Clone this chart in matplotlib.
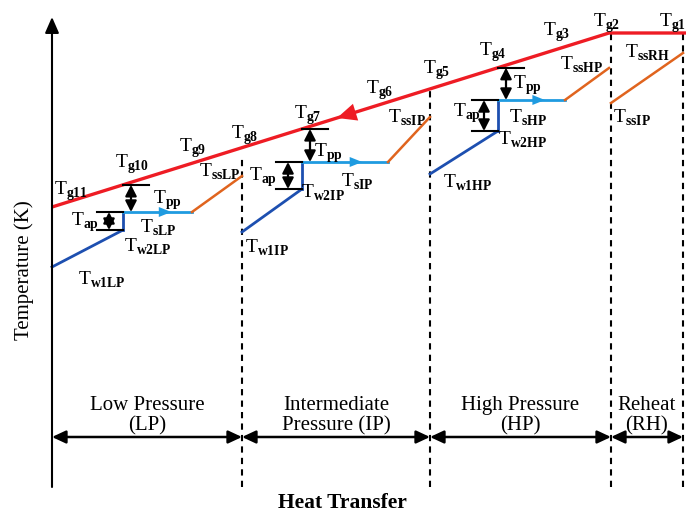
import matplotlib
matplotlib.use('Agg')
import matplotlib.pyplot as plt
import numpy as np

plt.rcParams['font.family'] = 'Liberation Serif'
plt.rcParams['mathtext.fontset'] = 'custom'
plt.rcParams['mathtext.rm'] = 'Liberation Serif'
plt.rcParams['mathtext.bf'] = 'Liberation Serif:bold'

# heat transfer positions of the section boundaries
q_bounds = [0, 190, 378, 559, 631]
section_names = ['Low Pressure\n(LP)', 'Intermediate\nPressure (IP)',
                 'High Pressure\n(HP)', 'Reheat\n(RH)']

# flue gas line
q_gas = [0, 557, 634]
t_gas = [280, 454, 454]

# pressure levels: economiser start, evaporator start, evaporator end, superheater end
q_lp = [0, 71, 140, 190]
t_lp = [220, 257, 275, 311]
q_ip = [190, 250, 336, 378]
t_ip = [255, 298, 325, 370]
q_hp = [378, 446, 513, 557]
t_hp = [313, 356, 387, 419]
q_rh = [559, 631]
t_rh = [384, 434]

# temperature labels (subscript, Q, T)
labels = [
    ('g11', 19, 296), ('g10', 80, 323), ('g9', 141, 339), ('g8', 193, 352),
    ('g7', 256, 372), ('g6', 328, 397), ('g5', 385, 417), ('g4', 441, 435),
    ('g3', 505, 455), ('g2', 555, 464), ('g1', 621, 464),
    ('pp', 115, 287), ('ap', 33, 265), ('sLP', 106, 259), ('w2LP', 96, 240),
    ('w1LP', 50, 207), ('ssLP', 168, 315),
    ('pp', 276, 334), ('ap', 211, 310), ('sIP', 305, 305), ('w2IP', 271, 294),
    ('w1IP', 215, 239), ('ssIP', 355, 369),
    ('pp', 475, 402), ('ap', 415, 374), ('sHP', 476, 369), ('w2HP', 471, 347),
    ('w1HP', 416, 304), ('ssHP', 530, 422),
    ('ssRH', 595, 434), ('ssIP', 580, 369),
]

RED = '#ee1c24'
DBLUE = '#1d4fb0'
LBLUE = '#1f9be0'
ORANGE = '#e0641e'

fig = plt.figure(figsize=(6.86, 5.17), dpi=100)
ax = fig.add_axes([0, 0, 1, 1])
ax.set_xlim(-52, 634)
ax.set_ylim(-30, 487)
ax.axis('off')

def gas_t(q):
    return np.interp(q, q_gas, t_gas)

# axes with arrows
ax.annotate('', xy=(0, 470), xytext=(0, 0),
            arrowprops=dict(arrowstyle='-|>,head_width=0.35,head_length=0.8',
                            color='k', lw=1.5, mutation_scale=12,
                            shrinkA=0, shrinkB=0))
ax.annotate('', xy=(636, 0), xytext=(0, 0),
            arrowprops=dict(arrowstyle='-|>,head_width=0.3,head_length=0.6',
                            color='k', lw=1.5, mutation_scale=10,
                            shrinkA=0, shrinkB=0))

# dashed section boundaries
for q in q_bounds[1:]:
    top = gas_t(q) - (8 if q == q_bounds[1] else 0)
    ax.plot([q, q], [0, top], color='k', lw=1.5, ls=(0, (3, 2.5)))

# section span arrows and names
for i, name in enumerate(section_names):
    a, b = q_bounds[i], q_bounds[i + 1]
    ax.annotate('', xy=(b, 50), xytext=(a, 50),
                arrowprops=dict(arrowstyle='<|-|>,head_width=0.35,head_length=0.75',
                                color='k', lw=1.8, mutation_scale=11,
                                shrinkA=0, shrinkB=0))
    ax.text((a + b) / 2, 71, name, ha='center', va='center', fontsize=15,
            linespacing=1.12)

# gas line with flow arrow
ax.plot(q_gas, t_gas, color=RED, lw=2.4, solid_capstyle='butt')
tip = 285
ax.annotate('', xy=(tip, gas_t(tip)), xytext=(tip + 16, gas_t(tip + 16)),
            arrowprops=dict(arrowstyle='-|>,head_width=0.45,head_length=1.0',
                            color=RED, lw=0, mutation_scale=14,
                            shrinkA=0, shrinkB=0))

def dbl_arrow(q, t0, t1):
    ax.annotate('', xy=(q, t1), xytext=(q, t0),
                arrowprops=dict(arrowstyle='<|-|>,head_width=0.28,head_length=0.55',
                                color='k', lw=1.6, mutation_scale=12,
                                shrinkA=0, shrinkB=0))

for q, t in [(q_lp, t_lp), (q_ip, t_ip), (q_hp, t_hp)]:
    ax.plot(q[:2], t[:2], color=DBLUE, lw=2)
    ax.plot([q[1], q[1]], [t[1], t[2]], color=DBLUE, lw=2)
    ax.plot(q[1:3], [t[2], t[2]], color=LBLUE, lw=2)
    ax.plot([q[2], q[3]], [t[2], t[3]], color=ORANGE, lw=1.8)
    # flow arrow on evaporator
    fq = q[1] + 0.7 * (q[2] - q[1])
    ax.annotate('', xy=(fq, t[2]), xytext=(fq - 10, t[2]),
                arrowprops=dict(arrowstyle='-|>,head_width=0.4,head_length=1.0',
                                color=LBLUE, lw=0, mutation_scale=9,
                                shrinkA=0, shrinkB=0))
    # pinch point
    tg = gas_t(q[1])
    ax.plot([q[1], q[1] + 26], [tg, tg], color='k', lw=1.5)
    dbl_arrow(q[1] + 8, tg, t[2])
    # approach
    ax.plot([q[1] - 26, q[1]], [t[2], t[2]], color='k', lw=1.5)
    ax.plot([q[1] - 26, q[1]], [t[1], t[1]], color='k', lw=1.5)
    dbl_arrow(q[1] - 14, t[2], t[1])

ax.plot(q_rh, t_rh, color=ORANGE, lw=1.8)

for sub, q, t in labels:
    ax.text(q, t, r'T$_{\mathbf{%s}}$' % sub, ha='center', va='center',
            fontsize=14)

ax.text(-28, 217, 'Temperature (K)', rotation=90, ha='center', va='center',
        fontsize=15)
ax.text(290, -16, 'Heat Transfer', ha='center', va='center', fontsize=15.5,
        fontweight='bold')

fig.savefig('out.png', dpi=100)
